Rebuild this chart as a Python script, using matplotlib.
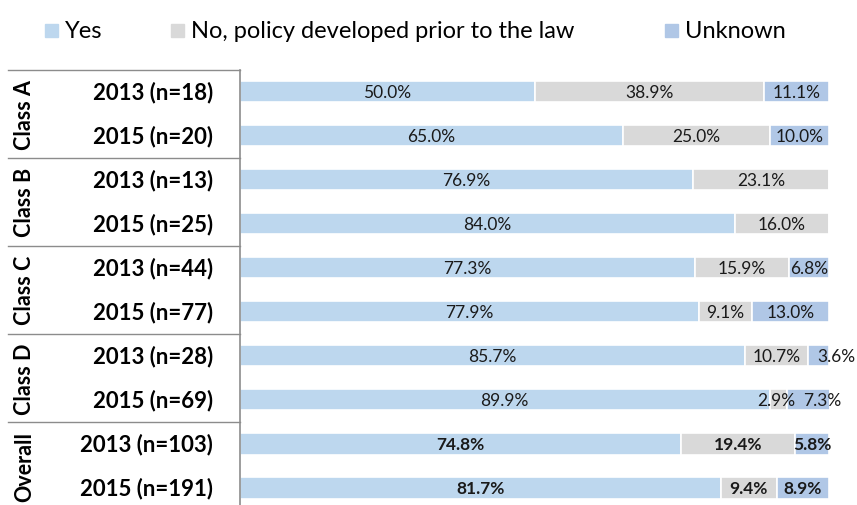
import matplotlib
matplotlib.use("Agg")
import matplotlib.pyplot as plt
from matplotlib.patches import Rectangle
import matplotlib.transforms as mtransforms

plt.rcParams['font.family'] = ['Lato', 'DejaVu Sans']

# data
groups = ["Class A", "Class B", "Class C", "Class D", "Overall"]
rows = ["2013 (n=18)", "2015 (n=20)", "2013 (n=13)", "2015 (n=25)",
        "2013 (n=44)", "2015 (n=77)", "2013 (n=28)", "2015 (n=69)",
        "2013 (n=103)", "2015 (n=191)"]
yes = [50.0, 65.0, 76.9, 84.0, 77.3, 77.9, 85.7, 89.9, 74.8, 81.7]
no = [38.9, 25.0, 23.1, 16.0, 15.9, 9.1, 10.7, 2.9, 19.4, 9.4]
unknown = [11.1, 10.0, 0.0, 0.0, 6.8, 13.0, 3.6, 7.3, 5.8, 8.9]
series_names = ["Yes", "No, policy developed prior to the law", "Unknown"]
colors = ["#BDD7EE", "#D9D9D9", "#B0C7E6"]

# labels of the thin segments are nudged right (row, series) -> shift in %
nudge = {(6, 2): 3.0, (7, 2): 2.4, (7, 1): -0.3}

fig = plt.figure(figsize=(8.57, 5.06), dpi=100)
ax = fig.add_axes([240/857, 0, 589/857, 1 - 71/506])

y = list(range(len(rows)))
left = [0.0] * len(rows)
for s, (vals, col) in enumerate(zip([yes, no, unknown], colors)):
    ax.barh(y, vals, left=left, height=0.48, color=col,
            edgecolor="white", linewidth=1.2)
    for i, (v, l) in enumerate(zip(vals, left)):
        if v > 0:
            bold = i >= 8
            ax.text(l + v / 2 + nudge.get((i, s), 0), i, f"{v:.1f}%",
                    ha="center", va="center", fontsize=12.5, color="#1a1a1a",
                    fontweight="bold" if bold else "normal")
    left = [a + b for a, b in zip(left, vals)]

ax.set_xlim(0, 100)
ax.set_ylim(9.386, -0.489)
ax.axis("off")

# left table
trans = mtransforms.blended_transform_factory(ax.transAxes, ax.transData)
x0 = (8 - 240) / 589
for yy in [-0.489, 1.5, 3.5, 5.5, 7.5]:
    ax.plot([x0, 0], [yy, yy], color="#8c8c8c", lw=1, transform=trans,
            clip_on=False)
ax.plot([0, 0], [-0.489, 9.386], color="#8c8c8c", lw=1.2, transform=trans,
        clip_on=False)

for i, lab in enumerate(rows):
    ax.text((213 - 240) / 589, i, lab, ha="right", va="center",
            fontsize=16, fontweight="bold", transform=trans)
for g, name in enumerate(groups):
    ax.text((25 - 240) / 589, 2 * g + 0.5, name, ha="center", va="center",
            rotation=90, fontsize=15.5, fontweight="bold", transform=trans)

# legend
leg_x = [45, 171, 665]
for x, name, col in zip(leg_x, series_names, colors):
    fig.patches.append(Rectangle((x / 857, 1 - 38 / 506), 13 / 857, 13 / 506,
                                 transform=fig.transFigure, color=col))
    fig.text((x + 20) / 857, 1 - 31 / 506, name, ha="left", va="center",
             fontsize=17)

fig.savefig("out.png", dpi=100)
